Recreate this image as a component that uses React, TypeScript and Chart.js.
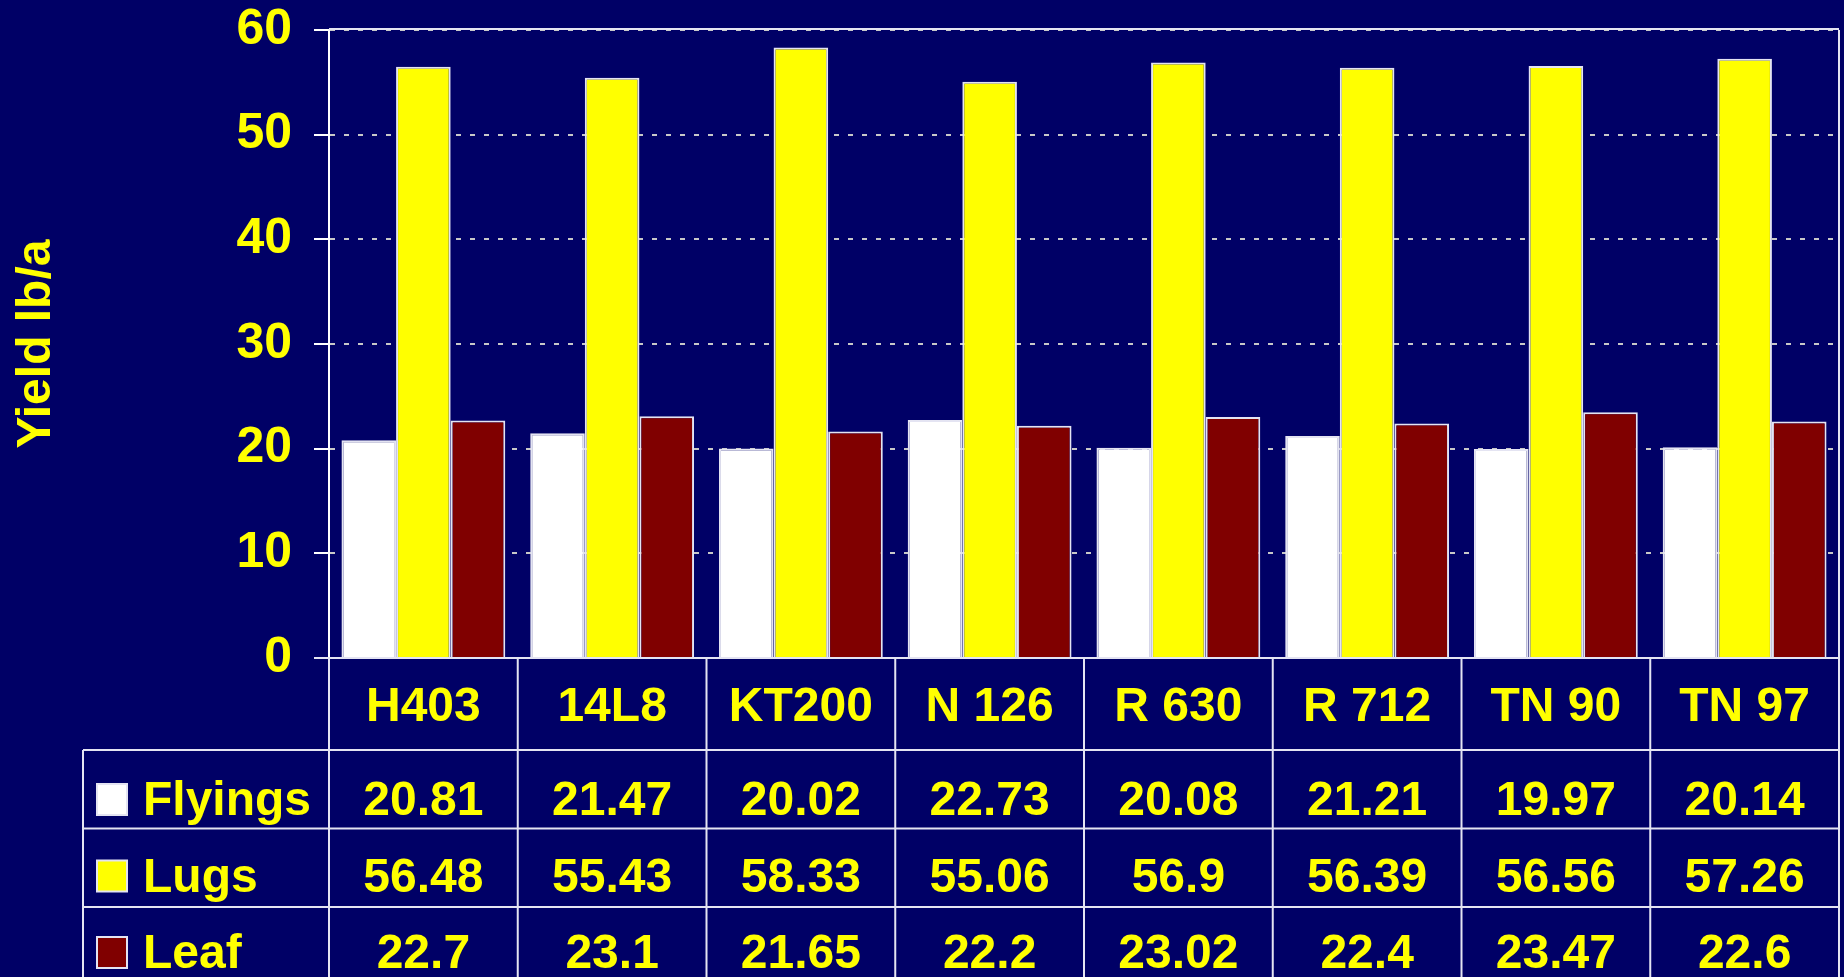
import React, { useEffect, useRef } from "react";
import { Chart, registerables } from "chart.js";

Chart.register(...registerables);

const categories = ["H403", "14L8", "KT200", "N 126", "R 630", "R 712", "TN 90", "TN 97"];
const flyings = [20.81, 21.47, 20.02, 22.73, 20.08, 21.21, 19.97, 20.14];
const lugs = [56.48, 55.43, 58.33, 55.06, 56.9, 56.39, 56.56, 57.26];
const leaf = [22.7, 23.1, 21.65, 22.2, 23.02, 22.4, 23.47, 22.6];
const seriesNames = ["Flyings", "Lugs", "Leaf"];
const seriesColors = ["#ffffff", "#ffff00", "#800000"];
const yTickValues = [0, 10, 20, 30, 40, 50, 60];
const yTitle = "Yield lb/a";

const BG = "#000066";
const TEXT = "#ffff00";
const LINE = "#e4e4f2";
const FONT = "'Liberation Sans', Arial, Helvetica, sans-serif";
const W = 1844;
const H = 977;

const tablePlugin = {
  id: "dataTable",
  beforeDraw(chart: any) {
    const ctx = chart.ctx;
    ctx.save();
    ctx.fillStyle = BG;
    ctx.fillRect(0, 0, chart.width, chart.height);
    ctx.restore();
  },
  afterDraw(chart: any) {
    const { ctx, chartArea: ca } = chart;
    const xs = chart.scales.x;
    const n = chart.data.labels.length;
    const colW = (ca.right - ca.left) / n;
    const top = ca.bottom;
    const catBottom = top + 92;
    const rowH = 78.5;
    const tableLeft = 83;
    const line = (x1: number, y1: number, x2: number, y2: number) => {
      ctx.beginPath();
      ctx.moveTo(x1, y1);
      ctx.lineTo(x2, y2);
      ctx.stroke();
    };
    ctx.save();
    ctx.strokeStyle = LINE;
    ctx.lineWidth = 2;
    // plot frame (top & right)
    line(ca.left, ca.top - 1, ca.right, ca.top - 1);
    line(ca.right, ca.top, ca.right, ca.bottom);
    // table grid
    line(ca.left - 15, top, ca.right, top);
    for (let r = 0; r < 3; r++) {
      const y = catBottom + r * rowH;
      line(tableLeft, y, ca.right, y);
    }
    for (let i = 0; i <= n; i++) {
      const xx = ca.left + i * colW;
      line(xx, top, xx, chart.height);
    }
    line(tableLeft, catBottom, tableLeft, chart.height);

    ctx.font = `bold 48px ${FONT}`;
    ctx.fillStyle = TEXT;
    ctx.textBaseline = "alphabetic";
    chart.data.datasets.forEach((ds: any, r: number) => {
      const yb = catBottom + 65 + r * 76.5;
      ctx.textAlign = "center";
      ctx.fillStyle = TEXT;
      ds.data.forEach((v: number, i: number) => {
        ctx.fillText(String(v), xs.getPixelForValue(i), yb);
      });
      // legend key
      ctx.fillStyle = ds.backgroundColor;
      ctx.fillRect(97, yb - 31, 30, 31);
      ctx.strokeStyle = LINE;
      ctx.lineWidth = 2;
      ctx.strokeRect(97, yb - 31, 30, 31);
      ctx.fillStyle = TEXT;
      ctx.textAlign = "left";
      ctx.fillText(ds.label, 143, yb);
    });
    ctx.restore();
  },
};

export default function App() {
  const ref = useRef<HTMLCanvasElement | null>(null);
  useEffect(() => {
    if (!ref.current) return;
    Chart.defaults.font.family = FONT;
    const seriesValues = [flyings, lugs, leaf];
    const chart = new Chart(ref.current, {
      type: "bar",
      data: {
        labels: categories,
        datasets: seriesNames.map((name, i) => ({
          label: name,
          data: seriesValues[i],
          backgroundColor: seriesColors[i],
          borderColor: LINE,
          borderWidth: 2,
          categoryPercentage: 0.868,
          barPercentage: 1.0,
        })),
      },
      options: {
        responsive: false,
        animation: false,
        layout: { padding: { top: 30, right: 5, left: 0, bottom: 0 } },
        plugins: {
          legend: { display: false },
          tooltip: { enabled: false },
          title: { display: false },
        },
        scales: {
          x: {
            grid: { display: false, drawTicks: false },
            border: { display: false },
            ticks: {
              color: TEXT,
              font: { size: 48, weight: "bold", family: FONT },
              padding: 21,
              autoSkip: false,
              maxRotation: 0,
              minRotation: 0,
            },
            afterFit: (s: any) => {
              s.height = 319;
              s.paddingLeft = 0;
              s.paddingRight = 0;
            },
          },
          y: {
            min: 0,
            max: 60,
            afterBuildTicks: (s: any) => {
              s.ticks = yTickValues.map((v) => ({ value: v }));
            },
            ticks: {
              color: TEXT,
              font: { size: 50, weight: "bold", family: FONT },
              padding: 22,
            },
            grid: {
              color: "#c8c8c8",
              lineWidth: 2,
              tickColor: "#ffffff",
              tickWidth: 2,
              tickLength: 15,
            },
            border: { color: "#ffffff", width: 2, dash: [5, 9] },
            title: {
              display: true,
              text: yTitle,
              color: TEXT,
              font: { size: 48, weight: "bold", family: FONT },
              padding: { top: 8, bottom: 0 },
            },
            afterFit: (s: any) => {
              s.width = 329;
              s.paddingTop = 0;
              s.paddingBottom = 0;
            },
          },
        },
      },
      plugins: [tablePlugin],
    });
    return () => chart.destroy();
  }, []);
  return (
    <div style={{ position: "fixed", left: 0, top: 0, width: W, height: H, background: BG }}>
      <canvas ref={ref} width={W} height={H} style={{ display: "block" }} />
    </div>
  );
}
